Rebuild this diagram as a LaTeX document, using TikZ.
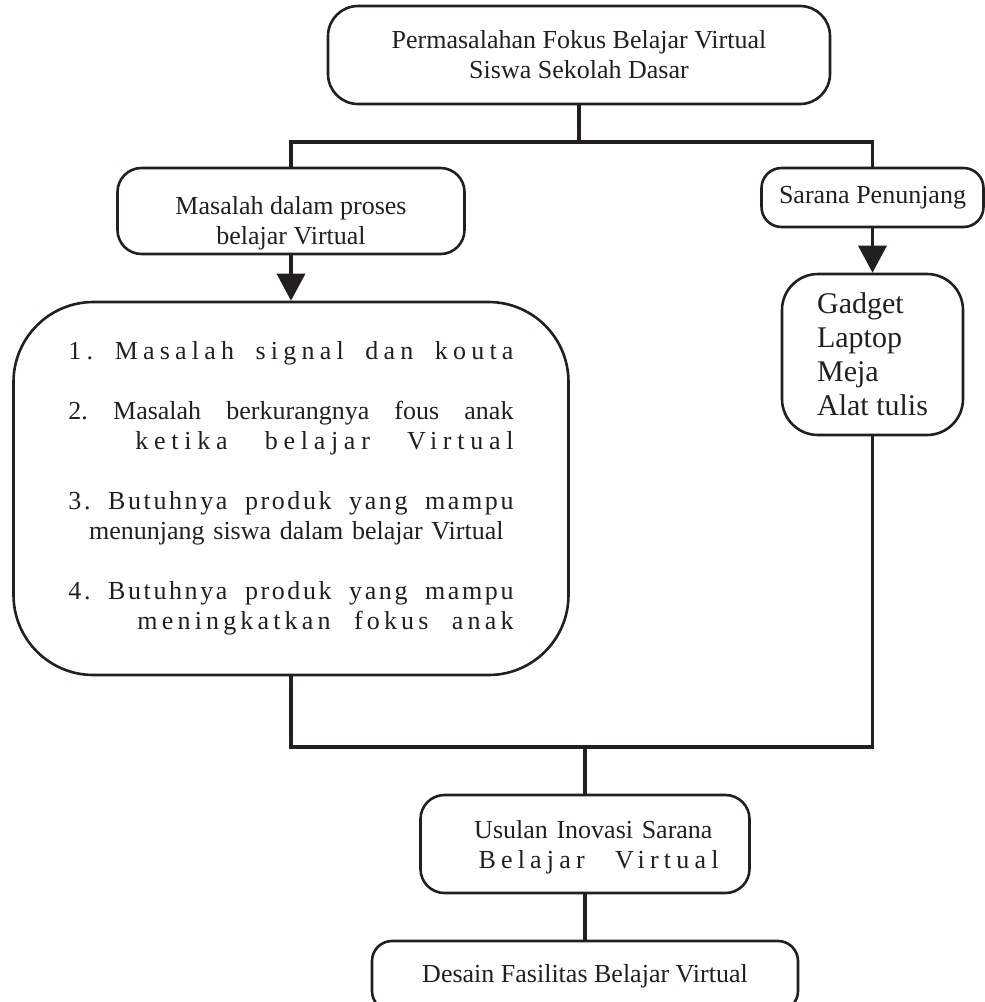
\documentclass[tikz,border=0pt]{standalone}
\usepackage{fontspec}
\setmainfont{Liberation Serif}
\usetikzlibrary{arrows.meta}
\definecolor{ink}{HTML}{231F20}
\newcommand{\fitline}[3]{\makebox[#1][s]{\frenchspacing\spaceskip=0pt\xspaceskip=0pt\addfontfeature{LetterSpace=#2}#3}}
\newcommand{\sunken}[2]{\raisebox{-#1}[\height][\depth]{#2}}

\begin{document}
\begin{tikzpicture}[
			x=0.5pt, y=-0.5pt,
			every node/.style={font=\fontsize{13}{15}\selectfont, text=ink},
			box/.style={draw=ink, line width=1.3pt, rounded corners=12pt, inner sep=0pt},
			link/.style={draw=ink, line width=1.7pt},
			arr/.style={link, -{Triangle[width=14pt,length=13.5pt]}}
			]
			\useasboundingbox (0,0) rectangle (985,1002);
			\node[box, rounded corners=15pt, minimum width=251pt, minimum height=49pt, align=center] (top) at (579,55)
				{\sunken{1pt}{\begin{tabular}{@{}c@{}}Permasalahan Fokus Belajar Virtual\\Siswa Sekolah Dasar\end{tabular}}};
			\node[box, minimum width=173.5pt, minimum height=43pt] (masalah) at (291,211)
				{\sunken{6pt}{\begin{tabular}{@{}c@{}}Masalah dalam proses\\belajar Virtual\end{tabular}}};
			\node[box, rounded corners=10pt, minimum width=111pt, minimum height=29.5pt] (sarana) at (872.5,197.5)
				{Sarana Penunjang};
			\node[box, rounded corners=18pt, minimum width=90.5pt, minimum height=80.5pt, align=left,
				font=\fontsize{15}{17}\selectfont] (gadget) at (872.5,354.5)
				{Gadget\\Laptop\\Meja\\Alat tulis};
			\node[box, rounded corners=40pt, minimum width=277.5pt, minimum height=186.5pt,
				text width=222.5pt, align=right] (bigbox) at (291,488.5)
				{\fitline{222.5pt}{20}{1. Masalah signal dan kouta}\\[15pt]
				\fitline{222.5pt}{0}{2. Masalah berkurangnya fous anak}\\
				\fitline{189pt}{22}{ketika belajar Virtual}\\[15pt]
				\fitline{222.5pt}{10}{3. Butuhnya produk yang mampu}\\
				menunjang siswa dalam belajar Virtual\kern5pt\mbox{}\\[15pt]
				\fitline{222.5pt}{10}{4. Butuhnya produk yang mampu}\\
				\fitline{188pt}{16}{meningkatkan fokus anak}};
			\node[box, minimum width=164.5pt, minimum height=49pt, text width=133.5pt, align=right] (usulan) at (585,844)
				{\sunken{1.5pt}{\begin{tabular}{@{}r@{}}Usulan Inovasi Sarana\kern3pt\mbox{}\\
				\fitline{120pt}{20}{Belajar Virtual}\end{tabular}}};
			\node[box, rounded corners=10pt, minimum width=213pt, minimum height=35pt] (desain) at (585,976)
				{Desain Fasilitas Belajar Virtual};

			\coordinate (j1) at (579,142);
			\coordinate (j2) at (585,747);
			\draw[link] (top.south) -- (j1);
			\draw[link] (masalah.north) |- (j1) -| (sarana.north);
			\draw[arr] (masalah.south) -- (bigbox.north);
			\draw[arr] (sarana.south) -- (gadget.north);
			\draw[link] (bigbox.south) |- (j2) -| (gadget.south);
			\draw[link] (j2) -- (usulan.north);
			\draw[link] (usulan.south) -- (desain.north);
		\end{tikzpicture}
\end{document}
